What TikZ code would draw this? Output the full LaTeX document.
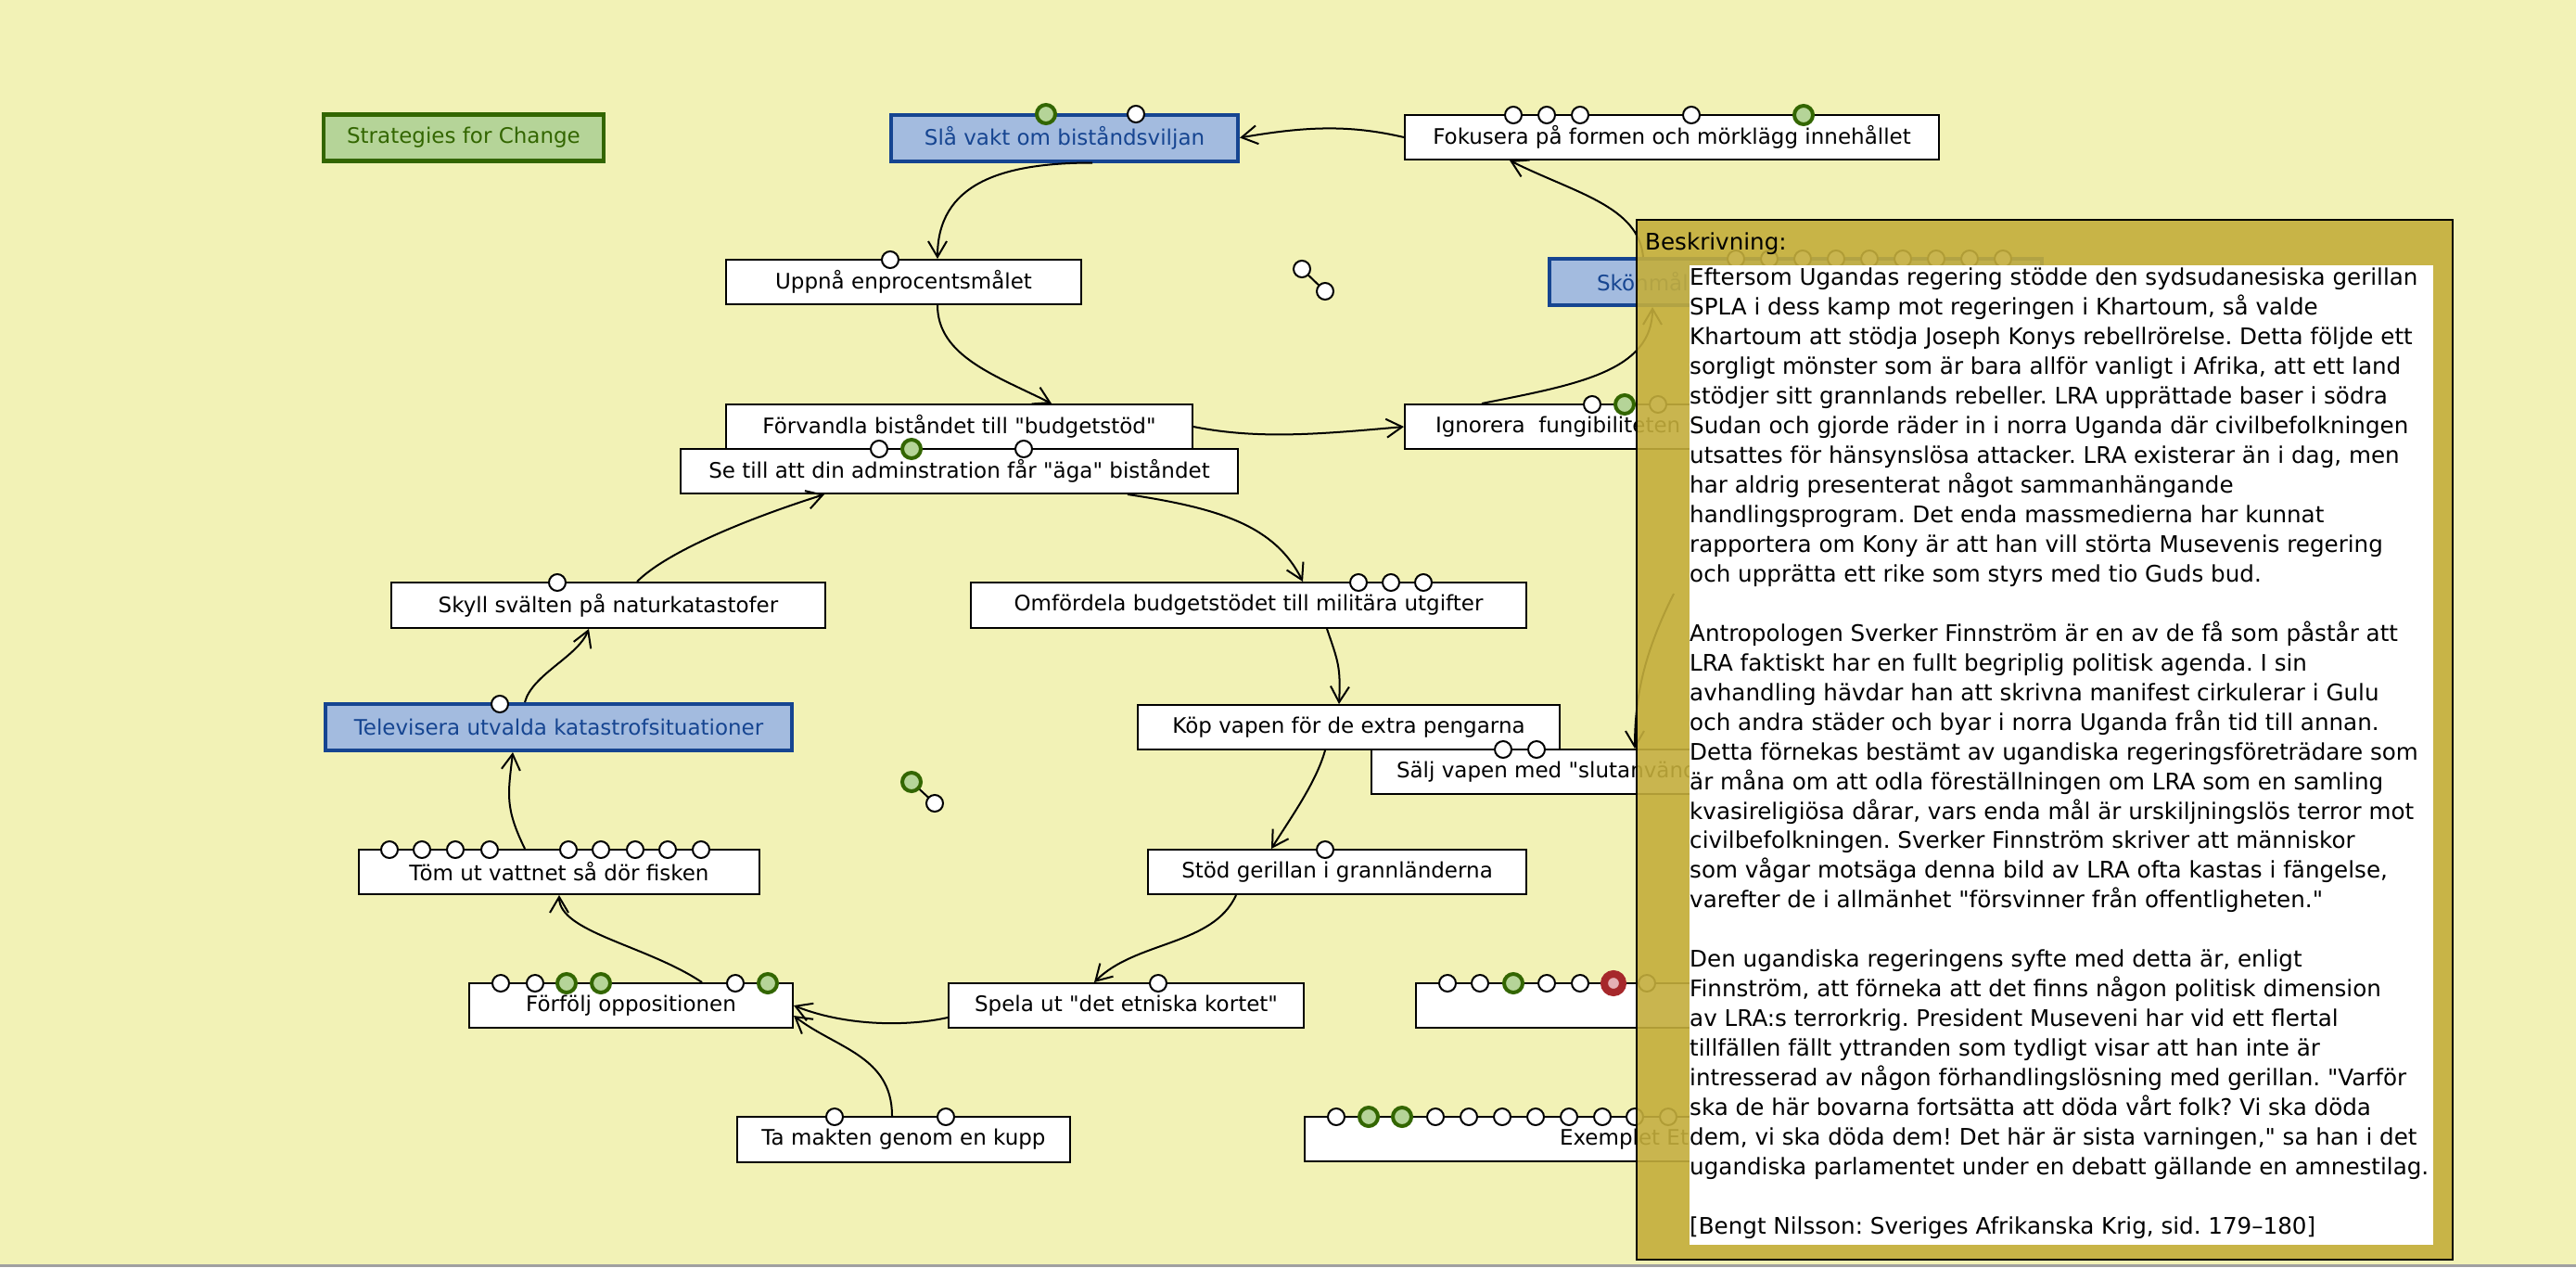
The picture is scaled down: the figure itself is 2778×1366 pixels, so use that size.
\documentclass[tikz,border=0pt]{standalone}
\usepackage{fontspec}
\setmainfont{DejaVu Sans}[Ligatures=TeXOff]
\usetikzlibrary{arrows.meta}
\frenchspacing
\definecolor{canvas}{RGB}{242,242,182}
\definecolor{panel}{RGB}{196,174,60}
\definecolor{bluefill}{RGB}{163,187,223}
\definecolor{blueline}{RGB}{22,69,145}
\definecolor{greenfill}{RGB}{181,212,152}
\definecolor{greenline}{RGB}{51,102,0}
\definecolor{redline}{RGB}{166,40,43}
\definecolor{redfill}{RGB}{228,176,180}
\definecolor{bottombar}{RGB}{160,160,160}

\begin{document}
\begin{tikzpicture}[x=1pt, y=-1pt,
  whitebox/.style={draw=black, line width=2pt, fill=white, minimum height=48pt, inner sep=0pt, font=\fontsize{23pt}{27pt}\selectfont},
  bluebox/.style={whitebox, draw=blueline, line width=4pt, fill=bluefill, text=blueline, minimum height=50pt},
  greenbox/.style={whitebox, draw=greenline, line width=4.5pt, fill=greenfill, text=greenline, minimum height=50pt},
  conn/.style={line width=2pt, -{Straight Barb[length=17pt, width=20pt, line width=2pt]}},
  dotw/.style={draw=black, line width=2pt, fill=white},
  dotg/.style={draw=greenline, line width=4pt, fill=greenfill},
  dotr/.style={draw=redline, line width=8pt, fill=redfill},
  desc/.style={inner sep=0pt, align=left, font=\fontsize{24.6pt}{31.95pt}\selectfont}]

  % Canvas
  \useasboundingbox (0,0) rectangle (2778,1366);
  \fill[canvas] (0,0) rectangle (2778,1366);
  \fill[bottombar] (0,1363) rectangle (2778,1366);

  % Strategy boxes (upper loop)
  \node[greenbox, minimum width=302pt] (strat) at (500,148.5) {Strategies for Change};
  \node[bluebox, minimum width=374pt] (slavakt) at (1148,148.5) {Slå vakt om biståndsviljan};
  \node[whitebox, minimum width=576pt] (fokus) at (1803,148) {Fokusera på formen och mörklägg innehållet};
  \node[whitebox, minimum width=383pt] (uppna) at (974.5,304) {Uppnå enprocentsmålet};
  \node[bluebox, anchor=west, minimum width=531pt, inner xsep=51pt, text width=429pt, align=left] (skonmal) at (1669,304) {Skönmål};
  \node[whitebox, minimum width=503pt] (forvandla) at (1034.5,460) {Förvandla biståndet till "budgetstöd"};
  \node[whitebox, anchor=west, inner xsep=33pt] (ignorera) at (1514,460) {Ignorera~ fungibiliteten};
  \node[whitebox, minimum width=601pt] (setill) at (1034.5,508) {Se till att din adminstration får "äga" biståndet};

  % Strategy boxes (middle)
  \node[whitebox, minimum width=468pt, minimum height=49pt] (skyll) at (656,652.5) {Skyll svälten på naturkatastofer};
  \node[whitebox, minimum width=599pt, minimum height=49pt] (omfordela) at (1346.5,652.5) {Omfördela budgetstödet till militära utgifter};
  \node[bluebox, minimum width=503pt] (telev) at (602.5,784) {Televisera utvalda katastrofsituationer};
  \node[whitebox, minimum width=455pt] (kop) at (1454.5,784) {Köp vapen för de extra pengarna};
  \node[whitebox, anchor=west, inner xsep=27pt] (salj) at (1478,832) {Sälj vapen med "slutanvänd};

  % Strategy boxes (lower loop)
  \node[whitebox, minimum width=432pt] (tom) at (603,940) {Töm ut vattnet så dör fisken};
  \node[whitebox, minimum width=408pt] (stod) at (1442,940) {Stöd gerillan i grannländerna};
  \node[whitebox, minimum width=349pt] (forfolj) at (680.5,1084) {Förfölj oppositionen};
  \node[whitebox, minimum width=383pt] (spela) at (1214.5,1084) {Spela ut "det etniska kortet"};
  \node[whitebox, anchor=west, minimum width=500pt] (redbox) at (1526,1084) {};
  \node[whitebox, minimum width=359pt, minimum height=49pt] (tamakten) at (974.5,1228.5) {Ta makten genom en kupp};
  \node[whitebox, anchor=west, inner xsep=275pt] (exemplet) at (1406,1228) {Exemplet Et};

  % Connectors
  \draw[conn] (fokus.west) .. controls +(-60,-14) and +(70,-12) .. (slavakt.east);
  \draw[conn] ([xshift=30pt]slavakt.south) .. controls +(-100,0) and +(0,-80) .. ([xshift=36.5pt]uppna.north);
  \draw[conn] ([xshift=36.5pt]uppna.south) .. controls +(0,55) and +(-60,-30) .. ([xshift=99.5pt]forvandla.north);
  \draw[conn] (forvandla.east) .. controls +(70,14) and +(-90,8) .. (ignorera.west);
  \draw[conn] ([xshift=84pt]ignorera.north west) .. controls +(100,-20) and +(0,70) .. ([xshift=-154.5pt]skonmal.south);
  \draw[conn] ([xshift=-164.5pt]skonmal.north) .. controls +(-5,-55) and +(70,35) .. ([xshift=-175pt]fokus.south);
  \draw[conn] ([xshift=181.5pt]setill.south) .. controls +(100,15) and +(-30,-60) .. ([xshift=58.5pt]omfordela.north);
  \draw[conn] ([xshift=31pt]skyll.north) .. controls +(35,-35) and +(-70,22) .. ([xshift=-145.5pt]setill.south);
  \draw[conn] ([xshift=-36.5pt]telev.north) .. controls +(8,-30) and +(-12,30) .. ([xshift=-21pt]skyll.south);
  \draw[conn] ([xshift=84.5pt]omfordela.south) .. controls +(12,35) and +(2,-40) .. ([xshift=-10.5pt]kop.north);
  \draw[conn] ([xshift=-25.5pt]kop.south) .. controls +(-10,35) and +(22,-35) .. ([xshift=-71pt]stod.north);
  \draw[conn] ([xshift=-37pt]tom.north) .. controls +(-22,-45) and +(-5,45) .. ([xshift=-49.5pt]telev.south);
  \draw[conn] ([xshift=76.5pt]forfolj.north) .. controls +(-60,-40) and +(0,40) .. (tom.south);
  \draw[conn] ([xshift=-109pt]stod.south) .. controls +(-25,55) and +(45,-45) .. ([xshift=-34.5pt]spela.north);
  \draw[conn] ([yshift=-13pt]spela.west) .. controls +(-45,10) and +(55,22) .. (forfolj.east);
  \draw[conn] ([xshift=-12.5pt]tamakten.north) .. controls +(0,-65) and +(45,35) .. ([yshift=-11pt]forfolj.east);
  \coordinate (saljin) at (1805,640);
  \draw[conn] (saljin) .. controls +(-30,60) and +(0,-60) .. ([xshift=285pt]salj.north west);

  % Loose marker pairs
  \draw[line width=2pt] (1404,290) -- (1429,314);
  \filldraw[dotw] (1404,290) circle (9pt);
  \filldraw[dotw] (1429,314) circle (9pt);
  \draw[line width=2pt] (983,843) -- (1008,866);
  \filldraw[dotg] (983,843) circle (10pt);
  \filldraw[dotw] (1008,866) circle (9pt);

  % Markers: Slå vakt, Uppnå, Fokusera
  \filldraw[dotg] (1128,123) circle (10pt);
  \filldraw[dotw] (1225,123) circle (9pt);
  \filldraw[dotw] (960,280) circle (9pt);
  \filldraw[dotw] (1632,124) circle (9pt);
  \filldraw[dotw] (1668,124) circle (9pt);
  \filldraw[dotw] (1704,124) circle (9pt);
  \filldraw[dotw] (1824,124) circle (9pt);
  \filldraw[dotg] (1945,124) circle (10pt);

  % Markers: Skönmål (under the panel)
  \filldraw[dotw] (1872,279) circle (9pt);
  \filldraw[dotw] (1908,279) circle (9pt);
  \filldraw[dotw] (1944,279) circle (9pt);
  \filldraw[dotw] (1980,279) circle (9pt);
  \filldraw[dotw] (2016,279) circle (9pt);
  \filldraw[dotw] (2052,279) circle (9pt);
  \filldraw[dotw] (2088,279) circle (9pt);
  \filldraw[dotw] (2124,279) circle (9pt);
  \filldraw[dotw] (2160,279) circle (9pt);

  % Markers: Se till, Ignorera
  \filldraw[dotw] (948,484) circle (9pt);
  \filldraw[dotg] (983,484) circle (10pt);
  \filldraw[dotw] (1104,484) circle (9pt);
  \filldraw[dotw] (1717,436) circle (9pt);
  \filldraw[dotg] (1752,436) circle (10pt);
  \filldraw[dotw] (1788,436) circle (9pt);

  % Markers: middle boxes
  \filldraw[dotw] (1465,628) circle (9pt);
  \filldraw[dotw] (1500,628) circle (9pt);
  \filldraw[dotw] (1535,628) circle (9pt);
  \filldraw[dotw] (601,628) circle (9pt);
  \filldraw[dotw] (539,759) circle (9pt);
  \filldraw[dotw] (1621,808) circle (9pt);
  \filldraw[dotw] (1657,808) circle (9pt);
  \filldraw[dotw] (1429,916) circle (9pt);

  % Markers: Töm ut
  \filldraw[dotw] (420,916) circle (9pt);
  \filldraw[dotw] (455,916) circle (9pt);
  \filldraw[dotw] (491,916) circle (9pt);
  \filldraw[dotw] (528,916) circle (9pt);
  \filldraw[dotw] (613,916) circle (9pt);
  \filldraw[dotw] (648,916) circle (9pt);
  \filldraw[dotw] (685,916) circle (9pt);
  \filldraw[dotw] (720,916) circle (9pt);
  \filldraw[dotw] (756,916) circle (9pt);

  % Markers: Förfölj, Spela, Ta makten
  \filldraw[dotw] (540,1060) circle (9pt);
  \filldraw[dotw] (577,1060) circle (9pt);
  \filldraw[dotg] (611,1060) circle (10pt);
  \filldraw[dotg] (648,1060) circle (10pt);
  \filldraw[dotw] (793,1060) circle (9pt);
  \filldraw[dotg] (828,1060) circle (10pt);
  \filldraw[dotw] (1249,1060) circle (9pt);
  \filldraw[dotw] (900,1204) circle (9pt);
  \filldraw[dotw] (1020,1204) circle (9pt);

  % Markers: right-hand boxes
  \filldraw[dotw] (1561,1060) circle (9pt);
  \filldraw[dotw] (1596,1060) circle (9pt);
  \filldraw[dotg] (1632,1060) circle (10pt);
  \filldraw[dotw] (1668,1060) circle (9pt);
  \filldraw[dotw] (1704,1060) circle (9pt);
  \filldraw[dotr] (1740,1060) circle (10pt);
  \filldraw[dotw] (1776,1060) circle (9pt);
  \filldraw[dotw] (1441,1204) circle (9pt);
  \filldraw[dotg] (1476,1204) circle (10pt);
  \filldraw[dotg] (1512,1204) circle (10pt);
  \filldraw[dotw] (1548,1204) circle (9pt);
  \filldraw[dotw] (1584,1204) circle (9pt);
  \filldraw[dotw] (1620,1204) circle (9pt);
  \filldraw[dotw] (1656,1204) circle (9pt);
  \filldraw[dotw] (1692,1204) circle (9pt);
  \filldraw[dotw] (1728,1204) circle (9pt);
  \filldraw[dotw] (1763,1204) circle (9pt);
  \filldraw[dotw] (1799,1204) circle (9pt);

  % Description panel
  \filldraw[fill=panel, fill opacity=0.9, draw=black, line width=2pt] (1765,237) rectangle (2645,1358);
  \fill[white] (1822,286) rectangle (2624,1342);
  \node[desc, anchor=west] (beskr) at (1774,263) {Beskrivning:};
  \node[desc, anchor=north west] (desctext) at (1822,289) {%
Eftersom Ugandas regering stödde den sydsudanesiska gerillan\\
SPLA i dess kamp mot regeringen i Khartoum, så valde\\
Khartoum att stödja Joseph Konys rebellrörelse. Detta följde ett\\
sorgligt mönster som är bara allför vanligt i Afrika, att ett land\\
stödjer sitt grannlands rebeller. LRA upprättade baser i södra\\
Sudan och gjorde räder in i norra Uganda där civilbefolkningen\\
utsattes för hänsynslösa attacker. LRA existerar än i dag, men\\
har aldrig presenterat något sammanhängande\\
handlingsprogram. Det enda massmedierna har kunnat\\
rapportera om Kony är att han vill störta Musevenis regering\\
och upprätta ett rike som styrs med tio Guds bud.\\[31.95pt]
Antropologen Sverker Finnström är en av de få som påstår att\\
LRA faktiskt har en fullt begriplig politisk agenda. I sin\\
avhandling hävdar han att skrivna manifest cirkulerar i Gulu\\
och andra städer och byar i norra Uganda från tid till annan.\\
Detta förnekas bestämt av ugandiska regeringsföreträdare som\\
är måna om att odla föreställningen om LRA som en samling\\
kvasireligiösa dårar, vars enda mål är urskiljningslös terror mot\\
civilbefolkningen. Sverker Finnström skriver att människor\\
som vågar motsäga denna bild av LRA ofta kastas i fängelse,\\
varefter de i allmänhet "försvinner från offentligheten."\\[31.95pt]
Den ugandiska regeringens syfte med detta är, enligt\\
Finnström, att förneka att det finns någon politisk dimension\\
av LRA:s terrorkrig. President Museveni har vid ett flertal\\
tillfällen fällt yttranden som tydligt visar att han inte är\\
intresserad av någon förhandlingslösning med gerillan. "Varför\\
ska de här bovarna fortsätta att döda vårt folk? Vi ska döda\\
dem, vi ska döda dem! Det här är sista varningen," sa han i det\\
ugandiska parlamentet under en debatt gällande en amnestilag.\\[31.95pt]
[Bengt Nilsson: Sveriges Afrikanska Krig, sid. 179–180]};

\end{tikzpicture}
\end{document}
